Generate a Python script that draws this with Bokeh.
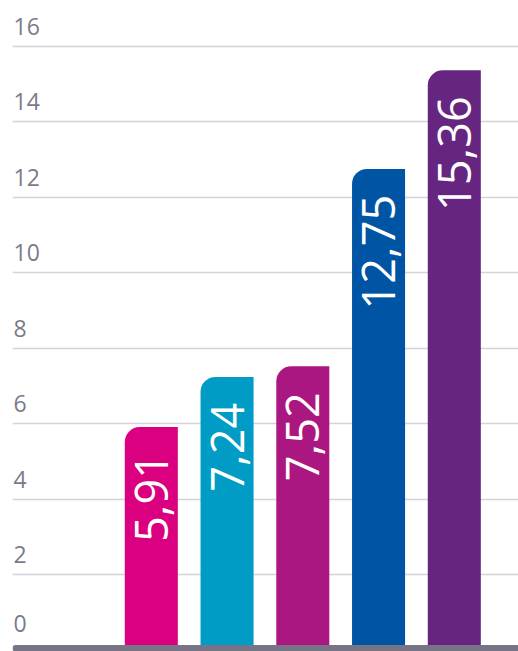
import math
from bokeh.plotting import figure
from bokeh.models import Range1d, ColumnDataSource, BoxAnnotation, FixedTicker, Grid
from bokeh.core.properties import value
from bokeh.embed import file_html
from bokeh.resources import INLINE

# ---- data ----
categories = ["A", "B", "C", "D", "E"]
values = [5.91, 7.24, 7.52, 12.75, 15.36]
bar_colors = ["#DB0080", "#009CC6", "#AB1780", "#0054A4", "#662580"]
y_ticks = [0, 2, 4, 6, 8, 10, 12, 14, 16]
y_tick_labels = [str(t) for t in y_ticks]

# ---- layout ----
W, H = 518, 651
LEFT = 12
PX_PER_X = 75.75
PX_PER_Y = 37.75
frame_w = W - LEFT
x_start = -138.8 / PX_PER_X
x_end = x_start + frame_w / PX_PER_X
y_end = 16 + 45.7 / PX_PER_Y
y_start = y_end - H / PX_PER_Y

p = figure(width=W, height=H, output_backend="svg", toolbar_location=None,
           x_range=Range1d(x_start, x_end), y_range=Range1d(y_start, y_end),
           x_axis_type=None, y_axis_type=None,
           min_border_left=LEFT, min_border_right=0, min_border_top=0, min_border_bottom=0)
p.outline_line_color = None
p.background_fill_color = "white"
p.border_fill_color = "white"

grid = Grid(dimension=1, ticker=FixedTicker(ticks=y_ticks),
            grid_line_color="#D4D3DA", grid_line_width=1.6)
p.add_layout(grid)

xs = list(range(len(categories)))
bar_src = ColumnDataSource(dict(
    x=xs, top=values, color=bar_colors,
    label=[f"{v:.2f}".replace(".", ",") for v in values],
))
p.vbar(x="x", top="top", bottom=0, width=0.70, source=bar_src,
       fill_color="color", line_color=None, border_radius=(15, 0, 0, 0))

p.text(x="x", y="top", text="label", source=bar_src, angle=math.pi / 2,
       text_align="right", text_baseline="middle", y_offset=26,
       text_color="white", text_font=value("Open Sans"), text_font_size=value("45px"))

tick_src = ColumnDataSource(dict(
    x=[x_start] * len(y_ticks), y=y_ticks, label=y_tick_labels,
    off=[-20 - (6.5 if t == 0 else 0) for t in y_ticks],
))
p.text(x="x", y="y", text="label", source=tick_src, x_offset=1, y_offset="off",
       text_align="left", text_baseline="alphabetic",
       text_color="#7C7A8A", text_font=value("Open Sans"), text_font_size=value("23px"))

band = BoxAnnotation(top=y_start + 6.5 / PX_PER_Y, fill_color="#777485", fill_alpha=1,
                     line_color=None, border_radius=(6, 0, 0, 6))
p.add_layout(band)

open("out.html", "w").write(file_html(p, INLINE))
